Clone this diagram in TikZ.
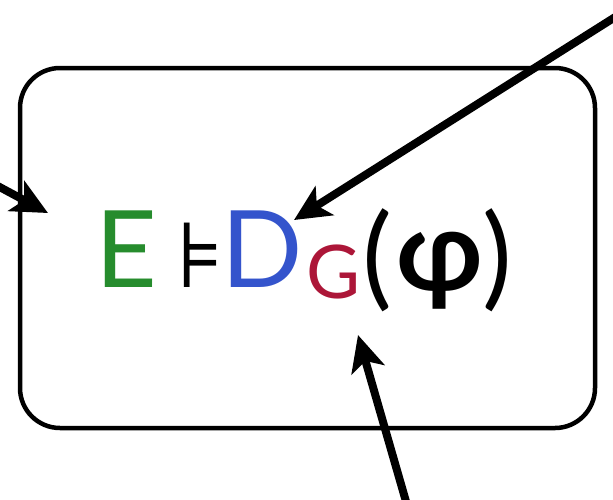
\documentclass[tikz,border=0pt]{standalone}
\usepackage{fontspec}
\setmainfont{Lato}
\newfontfamily\symfont{DejaVu Sans}
\usetikzlibrary{arrows.meta}
\definecolor{eGreen}{RGB}{38,140,45}
\definecolor{dBlue}{RGB}{52,84,204}
\definecolor{gRed}{RGB}{172,22,56}
\tikzset{
  frame/.style={draw=black, line width=4.5pt, rounded corners=40pt, inner sep=0pt},
  glyph/.style={inner sep=0pt, anchor=base west},
  pointer/.style={line width=8pt, -{Stealth[length=36pt,width=34pt,inset=9pt]}}
}
\begin{document}
\begin{tikzpicture}[x=1pt,y=-1pt]
\useasboundingbox (0,0) rectangle (613,499);
\node[frame, minimum width=575pt, minimum height=360pt] (box) at (307.5,248) {};
\node[glyph, text=eGreen, font=\fontsize{107}{107}\selectfont] (E) at (95,287) {E};
\node[glyph, font=\symfont\fontsize{92}{92}\selectfont] (M) at (176,287) {⊧};
\node[glyph, text=dBlue, font=\fontsize{107}{107}\selectfont] (D) at (221,287) {D};
\node[glyph, text=gRed, font=\fontsize{74}{74}\selectfont] (G) at (306,298) {G};
\node[glyph, font=\fontsize{112}{112}\selectfont] (L) at (362,295) {(};
\node[glyph, font=\fontsize{112}{112}\selectfont\bfseries] (P) at (396,290) {φ};
\node[glyph, font=\fontsize{112}{112}\selectfont] (R) at (482,295) {)};
\coordinate (l0) at (-6,184);
\coordinate (l1) at (48,213);
\coordinate (t0) at (620,14);
\coordinate (t1) at (294,220);
\coordinate (b0) at (407,505);
\coordinate (b1) at (358,335);
\draw[pointer] (l0) -- (l1);
\draw[pointer] (t0) -- (t1);
\draw[pointer] (b0) -- (b1);
\end{tikzpicture}
\end{document}
